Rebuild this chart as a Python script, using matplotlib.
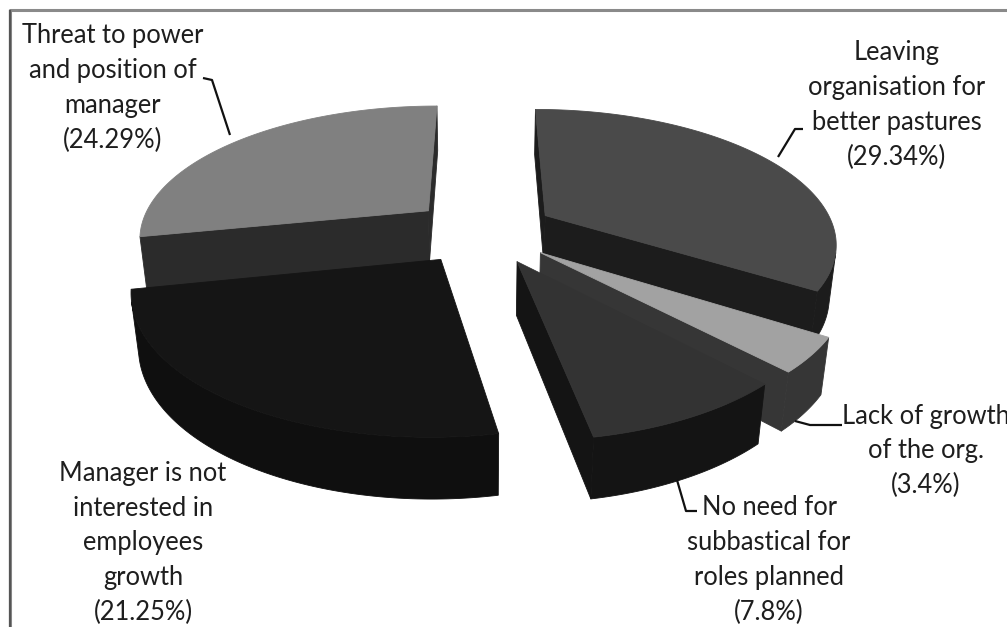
import numpy as np
import matplotlib
matplotlib.use("Agg")
import matplotlib.pyplot as plt
from matplotlib.patches import Polygon

# ---- data -------------------------------------------------------------
labels = [
    "Leaving\norganisation for\nbetter pastures",
    "Lack of growth\nof the org.",
    "No need for\nsubbastical for\nroles planned",
    "Manager is not\ninterested in\nemployees\ngrowth",
    "Threat to power\nand position of\nmanager",
]
values = [29.34, 3.4, 7.8, 21.25, 24.29]
top_colors = ["#4a4a4a", "#a2a2a2", "#333333", "#151515", "#808080"]
side_colors = ["#1c1c1c", "#363636", "#141414", "#0f0f0f", "#2b2b2b"]

# ---- figure / projection setup ---------------------------------------
W, H = 1007, 627
fig = plt.figure(figsize=(W / 100, H / 100), dpi=100)
ax = fig.add_axes([0, 0, 1, 1])
CX, CY = 483, 231          # screen position of the pie centre
ax.set_xlim(-CX, W - CX)
ax.set_ylim(-(H - CY), CY)
ax.axis("off")

PHI = np.radians(27.0)     # camera elevation
DIST = 4.69                # camera distance (pie radius = 1)
FOC = 1360.0               # focal length in pixels
THICK = 0.205              # pie thickness
EXPLODE = 0.25             # radial offset of every slice
cphi, sphi = np.cos(PHI), np.sin(PHI)
CAM = np.array([0.0, -DIST * cphi, DIST * sphi])


def project(p):
    p = np.atleast_2d(p)
    x, y, z = p[:, 0], p[:, 1], p[:, 2]
    w = DIST + y * cphi - z * sphi
    return np.column_stack([FOC * x / w, FOC * (z * cphi + y * sphi) / w])


def facing(point, normal):
    return np.dot(CAM - point, normal) > 0


def add_face(pts3d, color, zorder):
    xy = project(np.array(pts3d))
    ax.add_patch(Polygon(xy, closed=True, facecolor=color, edgecolor=color,
                         linewidth=0.6, zorder=zorder, joinstyle="round"))


fractions = np.array(values) / np.sum(values)
bounds = np.concatenate([[0], np.cumsum(fractions) * 360.0])

slices = []
for i in range(len(values)):
    a, b = np.radians(bounds[i]), np.radians(bounds[i + 1])
    mid = (a + b) / 2
    off = EXPLODE * np.array([np.sin(mid), np.cos(mid), 0.0])
    slices.append((off[1], i, a, b, off))

# painter's order: furthest slice first
ordered = sorted(slices, key=lambda s: -s[0])
for rank, (depth, i, a, b, off) in enumerate(ordered):
    z0 = 1 + 2 * rank
    th = np.linspace(a, b, 240)
    rim_top = np.column_stack([off[0] + np.sin(th), off[1] + np.cos(th), np.zeros_like(th)])
    rim_bot = rim_top - np.array([0, 0, THICK])
    apex_t = off.copy()
    apex_b = off - np.array([0, 0, THICK])

    # radial walls
    for ang, sgn in ((a, -1), (b, 1)):
        n = np.array([np.sin(ang + sgn * np.pi / 2), np.cos(ang + sgn * np.pi / 2), 0])
        if facing(apex_t, n):
            e = np.array([off[0] + np.sin(ang), off[1] + np.cos(ang), 0])
            add_face([apex_t, e, e - [0, 0, THICK], apex_b], side_colors[i], z0)

    # curved outer wall, visible runs only
    mids = (th[:-1] + th[1:]) / 2
    vis = [facing(np.array([off[0] + np.sin(t), off[1] + np.cos(t), 0]),
                  np.array([np.sin(t), np.cos(t), 0])) for t in mids]
    k = 0
    while k < len(vis):
        if vis[k]:
            j = k
            while j < len(vis) and vis[j]:
                j += 1
            seg_t = rim_top[k:j + 1]
            seg_b = rim_bot[k:j + 1][::-1]
            add_face(np.vstack([seg_t, seg_b]), side_colors[i], z0)
            k = j
        else:
            k += 1

    # top face
    add_face(np.vstack([[apex_t], rim_top]), top_colors[i], z0 + 1)


# ---- labels -----------------------------------------------------------
def px(x, y):
    return x - CX, CY - y


FONT = dict(family=["Lato", "DejaVu Sans"], fontsize=18.4, color="#1e1e1e",
            ha="center", va="center", linespacing=1.49)

label_pos = [(897, 105), (926, 451), (769, 560), (143, 543), (113, 88)]
for i, (lx, ly) in enumerate(label_pos):
    pct = f"({values[i]:g}%)"
    ax.text(*px(lx, ly), labels[i] + "\n" + pct, zorder=20, **FONT)

leaders = [
    [(778, 157), (795, 129), (803, 129)],
    [(795, 421), (810, 425), (842, 425)],
    [(677, 480), (686, 511), (697, 511)],
    [(230, 135), (212, 80), (203, 78)],
]
for path in leaders:
    xs, ys = zip(*[px(x, y) for x, y in path])
    ax.plot(xs, ys, color="#111111", lw=1.6, zorder=21, solid_capstyle="butt")

# outer frame
ax.plot(*zip(px(10, H), px(10, 10), px(W, 10)), color="#8a8a8a", lw=2.2, zorder=22)
ax.plot(*zip(px(10, H), px(10, 11)), color="#555555", lw=1.6, zorder=23)

fig.savefig("out.png", dpi=100)
